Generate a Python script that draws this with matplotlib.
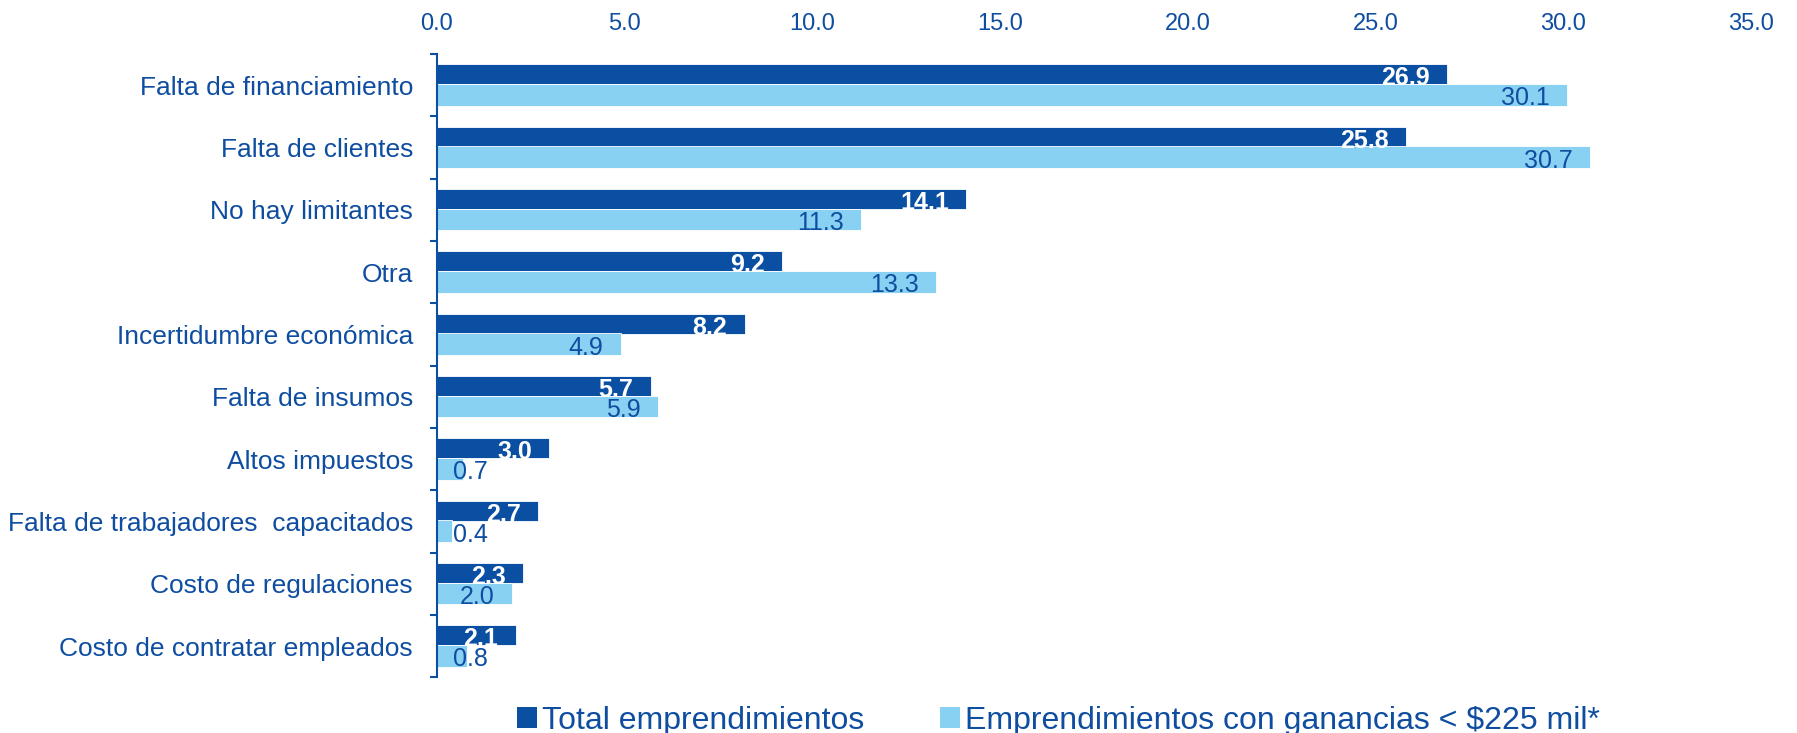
import matplotlib
matplotlib.use("Agg")
import matplotlib.pyplot as plt
from matplotlib.patches import Patch
import numpy as np

plt.rcParams['font.family'] = ['Liberation Sans', 'DejaVu Sans']

categories = ["Falta de financiamiento", "Falta de clientes", "No hay limitantes", "Otra",
              "Incertidumbre económica", "Falta de insumos", "Altos impuestos",
              "Falta de trabajadores  capacitados", "Costo de regulaciones",
              "Costo de contratar empleados"]
total = [26.9, 25.8, 14.1, 9.2, 8.2, 5.7, 3.0, 2.7, 2.3, 2.1]
low_income = [30.1, 30.7, 11.3, 13.3, 4.9, 5.9, 0.7, 0.4, 2.0, 0.8]
series_names = ["Total emprendimientos", "Emprendimientos con ganancias < $225 mil*"]
xticks = [0, 5, 10, 15, 20, 25, 30, 35]

DARK = '#0B4FA3'
LIGHT = '#89D1F2'
TEXT = '#0E4DA0'

fig = plt.figure(figsize=(17.97, 7.33), dpi=100)
ax = fig.add_axes([0.243, 0.076, 0.7315, 0.8503])

y = np.arange(len(categories))
ax.barh(y - 0.175, total, height=0.32, color=DARK, edgecolor='white', linewidth=0.6, zorder=2)
ax.barh(y + 0.155, low_income, height=0.35, color=LIGHT, edgecolor='white', linewidth=0.6, zorder=2)

ax.set_xlim(0, 35)
ax.set_ylim(len(categories) - 0.5, -0.5)

ax.xaxis.tick_top()
ax.set_xticks(xticks)
ax.set_xticklabels([f"{v:.1f}" for v in xticks])
ax.tick_params(axis='x', length=0, pad=14, labelsize=17, labelcolor=TEXT)

ax.set_yticks(y)
ax.set_yticklabels(categories)
ax.tick_params(axis='y', which='major', length=0, pad=17, labelsize=19, labelcolor=TEXT)
ax.set_yticks(np.arange(len(categories) + 1) - 0.5, minor=True)
ax.tick_params(axis='y', which='minor', length=5, width=1.5, color=DARK, direction='out')

for s in ['top', 'right', 'bottom']:
    ax.spines[s].set_visible(False)
ax.spines['left'].set_color(DARK)
ax.spines['left'].set_linewidth(1.5)

def put_label(val, yc, color, weight, dy):
    if val < 1.5:
        ax.annotate(f"{val:.1f}", xy=(0, yc), xytext=(12, dy), textcoords='offset points',
                    ha='left', va='center', fontsize=18, color=color, fontweight=weight, zorder=3)
    else:
        ax.annotate(f"{val:.1f}", xy=(val, yc), xytext=(-12.5, dy), textcoords='offset points',
                    ha='right', va='center', fontsize=18, color=color, fontweight=weight, zorder=3)

for i in range(len(categories)):
    put_label(total[i], y[i] - 0.175, 'white', 'bold', -3)
    put_label(low_income[i], y[i] + 0.155, TEXT, 'normal', -2.5)

handles = [Patch(facecolor=DARK, edgecolor='none'), Patch(facecolor=LIGHT, edgecolor='none')]
leg = fig.legend(handles, series_names, loc='center', bbox_to_anchor=(0.589, 0.0165),
                 ncol=2, frameon=False, fontsize=23, handlelength=0.62, handleheight=0.62,
                 handletextpad=0.15, columnspacing=2.4, borderaxespad=0, borderpad=0)
for t in leg.get_texts():
    t.set_color(TEXT)

fig.savefig("out.png", dpi=100)
